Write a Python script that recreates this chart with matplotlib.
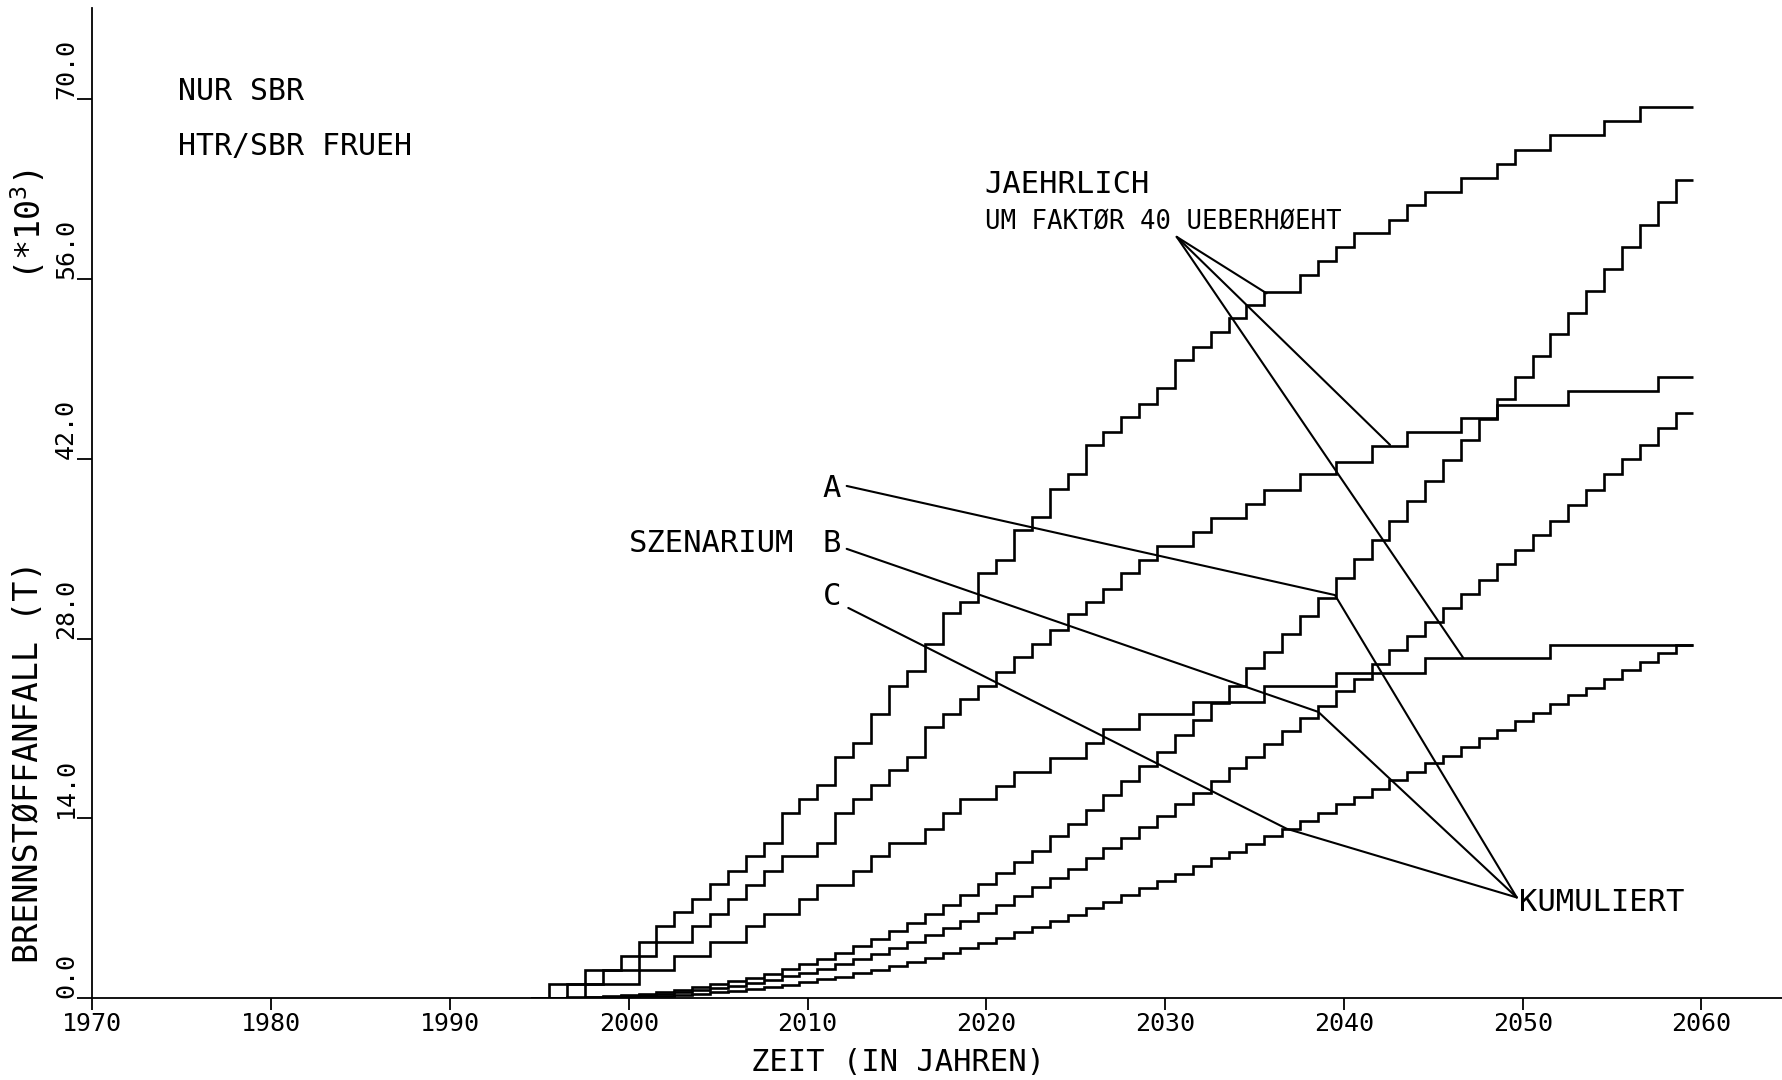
import numpy as np
import matplotlib
matplotlib.use("Agg")
import matplotlib.pyplot as plt

plt.rcParams["font.family"] = "DejaVu Sans Mono"
plt.rcParams["mathtext.fontset"] = "custom"
plt.rcParams["mathtext.rm"] = "DejaVu Sans Mono"

YEARS = np.arange(1995, 2060)

# jaehrlich, um Faktor 40 ueberhoeht (Szenarien A, B, C)
ANNUAL_A = [0.0, 1.1, 1.1, 2.2, 2.2,
            3.3, 4.4, 5.6, 6.7, 7.7,
            8.9, 9.9, 11.1, 12.1, 14.4,
            15.5, 16.6, 18.8, 19.9, 22.1,
            24.3, 25.5, 27.6, 30.0, 30.9,
            33.1, 34.1, 36.5, 37.5, 39.7,
            40.8, 43.1, 44.1, 45.3, 46.3,
            47.5, 49.7, 50.7, 51.9, 53.0,
            54.0, 55.0, 55.0, 56.3, 57.4,
            58.5, 59.6, 59.6, 60.6, 61.8,
            62.8, 62.8, 63.9, 63.9, 65.0,
            66.1, 66.1, 67.2, 67.2, 67.2,
            68.3, 68.3, 69.4, 69.4, 69.4]
ANNUAL_B = [0.0, 0.0, 1.1, 1.1, 2.2,
            2.2, 3.3, 4.4, 4.4, 5.6,
            6.6, 7.7, 8.8, 9.9, 11.1,
            11.1, 12.1, 14.4, 15.5, 16.6,
            17.8, 18.8, 21.1, 22.1, 23.3,
            24.3, 25.4, 26.6, 27.6, 28.7,
            29.9, 30.9, 31.9, 33.1, 34.1,
            35.2, 35.2, 36.3, 37.4, 37.4,
            38.5, 39.6, 39.6, 40.8, 40.8,
            41.8, 41.8, 43.0, 43.0, 44.1,
            44.1, 44.1, 45.2, 45.2, 46.2,
            46.2, 46.2, 46.2, 47.3, 47.3,
            47.3, 47.3, 47.3, 48.4, 48.4]
ANNUAL_C = [0.0, 0.0, 0.0, 1.1, 1.1,
            1.1, 2.2, 2.2, 3.3, 3.3,
            4.4, 4.4, 5.6, 6.6, 6.6,
            7.7, 8.8, 8.8, 9.9, 11.1,
            12.1, 12.1, 13.2, 14.4, 15.5,
            15.5, 16.5, 17.6, 17.6, 18.7,
            18.7, 19.9, 21.0, 21.0, 22.1,
            22.1, 22.1, 23.1, 23.1, 23.1,
            23.1, 24.3, 24.3, 24.3, 24.3,
            25.3, 25.3, 25.3, 25.3, 25.3,
            26.5, 26.5, 26.5, 26.5, 26.5,
            26.5, 26.5, 27.5, 27.5, 27.5,
            27.5, 27.5, 27.5, 27.5, 27.5]

# kumuliert
CUM_A = [0.0, 0.03, 0.06, 0.11, 0.17,
         0.25, 0.36, 0.50, 0.67, 0.86,
         1.08, 1.33, 1.61, 1.91, 2.27,
         2.66, 3.07, 3.54, 4.04, 4.59,
         5.20, 5.84, 6.53, 7.28, 8.05,
         8.88, 9.73, 10.6, 11.5, 12.6,
         13.6, 14.7, 15.8, 16.9, 18.1,
         19.2, 20.5, 21.7, 23.0, 24.3,
         25.7, 27.0, 28.4, 29.8, 31.2,
         32.7, 34.2, 35.7, 37.2, 38.7,
         40.3, 41.9, 43.5, 45.1, 46.7,
         48.4, 50.0, 51.7, 53.4, 55.1,
         56.8, 58.5, 60.2, 62.0, 63.7]
CUM_B = [0.0, 0.0, 0.03, 0.06, 0.11,
         0.17, 0.25, 0.36, 0.47, 0.61,
         0.77, 0.97, 1.19, 1.43, 1.71,
         1.99, 2.29, 2.65, 3.04, 3.45,
         3.90, 4.37, 4.90, 5.45, 6.03,
         6.64, 7.27, 7.94, 8.63, 9.35,
         10.1, 10.9, 11.7, 12.5, 13.3,
         14.2, 15.1, 16.0, 16.9, 17.9,
         18.8, 19.8, 20.8, 21.8, 22.8,
         23.9, 24.9, 26.0, 27.1, 28.2,
         29.3, 30.4, 31.5, 32.6, 33.8,
         34.9, 36.1, 37.2, 38.4, 39.6,
         40.8, 42.0, 43.1, 44.4, 45.6]
CUM_C = [0.0, 0.0, 0.0, 0.03, 0.06,
         0.08, 0.14, 0.19, 0.28, 0.36,
         0.47, 0.58, 0.72, 0.88, 1.05,
         1.24, 1.46, 1.68, 1.93, 2.21,
         2.51, 2.81, 3.14, 3.50, 3.89,
         4.28, 4.69, 5.13, 5.57, 6.04,
         6.50, 7.00, 7.53, 8.05, 8.60,
         9.16, 9.71, 10.3, 10.9, 11.4,
         12.0, 12.6, 13.2, 13.8, 14.4,
         15.1, 15.7, 16.3, 17.0, 17.6,
         18.3, 18.9, 19.6, 20.3, 20.9,
         21.6, 22.2, 22.9, 23.6, 24.2,
         24.9, 25.6, 26.2, 26.9, 27.5]

X_TICKS = [1970, 1980, 1990, 2000, 2010, 2020, 2030, 2040, 2050, 2060]
Y_TICKS = [0, 14, 28, 42, 56, 70]
Y_TICKLABELS = ["0.0", "14.0", "28.0", "42.0", "56.0", "70.0"]

# annotation leader lines (year, value)
JAEHR_FROM = (2030.65, 59.3)
JAEHR_TO = [(2035.68, 54.9), (2042.58, 43.1), (2046.68, 26.5)]
KUM_POINT = (2049.67, 7.85)
SZEN_START = {"A": (2012.19, 39.9), "B": (2012.19, 35.0), "C": (2012.28, 30.4)}
SZEN_KINK = {"A": (2039.5, 31.4), "B": (2038.57, 22.3), "C": (2036.8, 13.2)}
SZEN_LABEL_Y = {"A": 39.07, "B": 34.78, "C": 30.63}

fig = plt.figure(figsize=(17.83, 10.8), dpi=100)
ax = fig.add_axes([0.0518, 0.0757, 0.9482, 0.9166])

edges = np.append(YEARS, YEARS[-1] + 1) - 0.45
for series in (ANNUAL_A, ANNUAL_B, ANNUAL_C, CUM_A, CUM_B, CUM_C):
    ax.stairs(series, edges, baseline=None, color="black", lw=1.9)

lk = dict(color="black", lw=1.5, solid_capstyle="round")
for tx, ty in JAEHR_TO:
    ax.plot([JAEHR_FROM[0], tx], [JAEHR_FROM[1], ty], **lk)
for key in "ABC":
    xs = [SZEN_START[key][0], SZEN_KINK[key][0], KUM_POINT[0]]
    ys = [SZEN_START[key][1], SZEN_KINK[key][1], KUM_POINT[1]]
    ax.plot(xs, ys, **lk)
    ax.text(2010.85, SZEN_LABEL_Y[key], key, fontsize=22, va="baseline")

ax.text(2000.0, 34.76, "SZENARIUM", fontsize=22, va="baseline")
ax.text(2049.8, 6.81, "KUMULIERT", fontsize=22, va="baseline")
ax.text(2019.9, 62.74, "JAEHRLICH", fontsize=22, va="baseline")
ax.text(2019.9, 59.91, "UM FAKTØR 40 UEBERHØEHT", fontsize=18.5, va="baseline")
ax.text(1974.8, 69.96, "NUR SBR", fontsize=21.5, va="baseline")
ax.text(1974.8, 65.68, "HTR/SBR FRUEH", fontsize=21.5, va="baseline")

ax.set_xlim(1970, 2064.56)
ax.set_ylim(0, 77.1)
for s in ("top", "right"):
    ax.spines[s].set_visible(False)
for s in ("left", "bottom"):
    ax.spines[s].set_linewidth(1.3)

ax.set_xticks(X_TICKS)
ax.set_xticklabels([str(x) for x in X_TICKS], fontsize=18)
ax.set_yticks(Y_TICKS)
ax.set_yticklabels(Y_TICKLABELS, fontsize=18, rotation=90, va="bottom")
ax.tick_params(axis="x", direction="out", length=8.6, width=1.3, pad=1)
ax.tick_params(axis="y", direction="out", length=10.8, width=1.3, pad=-0.5)

ax.set_xlabel("ZEIT (IN JAHREN)", fontsize=22)
ax.xaxis.label.set_va("baseline")
ax.xaxis.set_label_coords(0.4766, -0.0735)
ax.set_ylabel("BRENNSTØFFANFALL (T)", fontsize=24)
ax.yaxis.label.set(rotation_mode="default", ha="center", va="center")
ax.yaxis.set_label_coords(-0.038, 0.2387)
ax.text(-0.038, 0.782, r"(*10$^{3}$)", fontsize=24, rotation=90,
        ha="center", va="center", transform=ax.transAxes)

fig.savefig("out.png", dpi=100)
